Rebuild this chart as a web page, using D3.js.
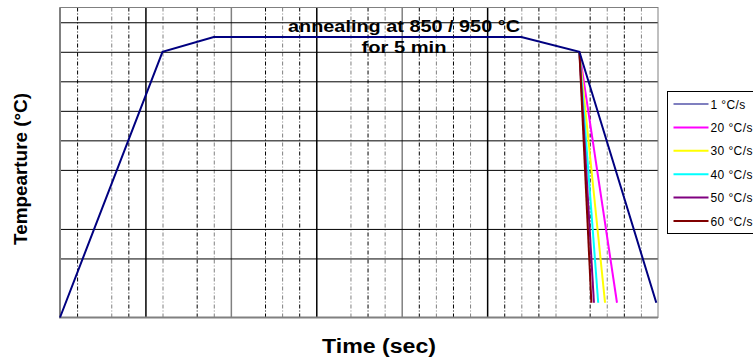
<!DOCTYPE html>
<html>
<head>
<meta charset="utf-8">
<script src="https://cdn.jsdelivr.net/npm/d3@7"></script>
<style>
    body { margin: 0; background: #fff; }
    text { font-family: Arial, "Liberation Sans", sans-serif; }
</style>
</head>
<body>
<div id="chart"></div>
<script>
// Data
var heatTime = [0, 6, 9, 27, 30.4];
var heatTemp = [0, 900, 950, 950, 900];

var coolRates = ["1 °C/s", "20 °C/s", "30 °C/s", "40 °C/s", "50 °C/s", "60 °C/s"];
var coolEndTime = [34.9, 32.6, 31.9, 31.5, 31.25, 31.1];
var coolEndTemp = [50, 50, 50, 50, 50, 50];

var majorTimeTicks = [5, 10, 15, 20, 25];
var minorTimeTicks = [1, 3, 4, 6, 8, 9, 12, 13, 14, 17, 18, 19, 21, 22, 23, 24, 26, 27, 28, 29, 31, 32, 33, 34];
var tempTicks = [200, 300, 500, 600, 700, 800, 900, 1000];

// SVG
var svgWidth = 753;
var svgHeight = 360;

var margin = {
    top: 7.5,
    right: 95,
    bottom: 42.5,
    left: 60
};

var width = svgWidth - margin.left - margin.right;
var height = svgHeight - margin.top - margin.bottom;

var colors = ["#000080", "#ff00ff", "#ffff00", "#00ffff", "#800080", "#800000"];

var svg = d3.select("#chart")
    .append("svg")
    .attr("width", svgWidth)
    .attr("height", svgHeight);

var svgGroup = svg.append("g")
    .attr("transform", `translate(${margin.left}, ${margin.top})`);

// Scales
var xScale = d3.scaleLinear().domain([0, 35]).range([0, width]);
var yScale = d3.scaleLinear().domain([0, 1050]).range([height, 0]);

// Vertical grid
svgGroup.append("g")
    .call(d3.axisBottom(xScale).tickValues(minorTimeTicks).tickSize(height).tickFormat(""))
    .call(g => g.select(".domain").remove())
    .selectAll("line")
    .attr("stroke", (d, i) => i % 2 ? "#808080" : "#000")
    .attr("stroke-dasharray", "4,2,1,2");

svgGroup.append("g")
    .call(d3.axisBottom(xScale).tickValues(majorTimeTicks).tickSize(height).tickFormat(""))
    .call(g => g.select(".domain").remove())
    .selectAll("line")
    .attr("stroke", (d, i) => i % 2 ? "#808080" : "#000")
    .attr("stroke-width", 1.5);

// Horizontal grid
svgGroup.append("g")
    .call(d3.axisLeft(yScale).tickValues(tempTicks).tickSize(-width).tickFormat(""))
    .call(g => g.select(".domain").remove())
    .selectAll("line")
    .attr("stroke", "#000");

// Frame
svgGroup.append("rect")
    .attr("width", width)
    .attr("height", height)
    .attr("fill", "none")
    .attr("stroke", "#808080")
    .attr("stroke-width", 1);
svgGroup.append("path")
    .attr("d", `M0,0V${height}H${width}`)
    .attr("fill", "none")
    .attr("stroke", "#808080")
    .attr("stroke-width", 2);

// Lines
var line = d3.line()
    .x(d => xScale(d[0]))
    .y(d => yScale(d[1]));

var startCool = [heatTime[heatTime.length - 1], heatTemp[heatTemp.length - 1]];

for (var i = 1; i < coolRates.length; i++) {
    svgGroup.append("path")
        .attr("d", line([startCool, [coolEndTime[i], coolEndTemp[i]]]))
        .attr("fill", "none")
        .attr("stroke", colors[i])
        .attr("stroke-width", 2);
}

var heatData = heatTime.map((t, i) => [t, heatTemp[i]]);
heatData.push([coolEndTime[0], coolEndTemp[0]]);
svgGroup.append("path")
    .attr("d", line(heatData))
    .attr("fill", "none")
    .attr("stroke", colors[0])
    .attr("stroke-width", 2);

// Title
svgGroup.append("text")
    .attr("x", 404 - margin.left)
    .attr("y", 31.5 - margin.top)
    .attr("text-anchor", "middle")
    .attr("font-weight", "bold")
    .attr("font-size", 17)
    .attr("textLength", 232)
    .attr("lengthAdjust", "spacingAndGlyphs")
    .text("annealing at 850 / 950 °C");

svgGroup.append("text")
    .attr("x", 404 - margin.left)
    .attr("y", 53 - margin.top)
    .attr("text-anchor", "middle")
    .attr("font-weight", "bold")
    .attr("font-size", 17)
    .attr("textLength", 85)
    .attr("lengthAdjust", "spacingAndGlyphs")
    .text("for 5 min");

// Axis labels
svg.append("text")
    .attr("x", 379)
    .attr("y", 353)
    .attr("text-anchor", "middle")
    .attr("font-weight", "bold")
    .attr("font-size", 20)
    .attr("textLength", 114)
    .attr("lengthAdjust", "spacingAndGlyphs")
    .text("Time (sec)");

svg.append("text")
    .attr("transform", "translate(27, 169) rotate(-90)")
    .attr("text-anchor", "middle")
    .attr("font-weight", "bold")
    .attr("font-size", 19)
    .attr("textLength", 152)
    .attr("lengthAdjust", "spacingAndGlyphs")
    .text("Tempearture (°C)");

// Legend
var legend = svg.append("g")
    .attr("transform", "translate(667.5, 91.5)");

legend.append("rect")
    .attr("width", 100)
    .attr("height", 142)
    .attr("fill", "#fff")
    .attr("stroke", "#000")
    .attr("stroke-width", 1);

var legendItems = legend.selectAll(".item")
    .data(coolRates)
    .enter()
    .append("g")
    .attr("transform", (d, i) => `translate(0, ${12.5 + i * 23.4})`);

legendItems.append("line")
    .attr("x1", 6)
    .attr("x2", 41)
    .attr("stroke", (d, i) => colors[i])
    .attr("stroke-width", (d, i) => i === 0 ? 1.2 : 2);

legendItems.append("text")
    .attr("x", 43)
    .attr("y", 4.5)
    .attr("font-size", 12)
    .attr("letter-spacing", 0.4)
    .text(d => d);
</script>
</body>
</html>
